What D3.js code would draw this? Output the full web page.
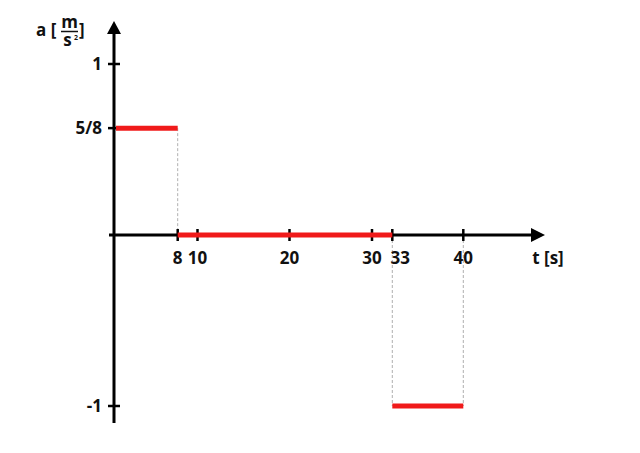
<!DOCTYPE html>
<html>
<head>
<meta charset="utf-8">
<style>
  body { margin: 0; background: #fff; }
  svg text { font-family: "Open Sans", sans-serif; font-weight: 700; font-size: 17px; fill: #111; }
</style>
<script src="https://cdn.jsdelivr.net/npm/d3@7"></script>
</head>
<body>
<script>
// piecewise-constant acceleration
var segStart = [0, 8, 33];
var segEnd   = [8, 33, 40];
var segAcc   = [5/8, 0, -1];

var xTicks = [8, 10, 20, 30, 33, 40];
var xTickLabels = ["8", "10", "20", "30", "33", "40"];
var yTicks = [1, 5/8, -1];
var yTickLabels = ["1", "5/8", "-1"];

// dashed guides: [t, a from, a to]
var guideT = [8, 33, 40];
var guideFrom = [5/8, 0, 0];
var guideTo = [0, -1, -1];

var width = 640, height = 453;

// the drawing is hand-spaced, so the time axis is piecewise
var x = d3.scaleLinear()
  .domain([0, 8, 10, 20, 30, 33, 40])
  .range([114, 177.7, 197.5, 289.5, 372, 392.3, 463.3]);
var y = d3.scaleLinear().domain([-1, 1]).range([406, 64]);

var svg = d3.select("body").append("svg")
  .attr("width", width)
  .attr("height", height);

// guides
svg.append("g").selectAll("line")
  .data(guideT)
  .enter().append("line")
  .attr("x1", function(d) { return x(d); })
  .attr("x2", function(d) { return x(d); })
  .attr("y1", function(d, i) { return y(guideFrom[i]); })
  .attr("y2", function(d, i) { return y(guideTo[i]); })
  .style("stroke", "#b0b0b0")
  .style("stroke-width", 1)
  .style("stroke-dasharray", "3,2");

// axes
var axes = svg.append("g").style("stroke", "#000").style("stroke-width", 3);
axes.append("line").attr("x1", 109).attr("x2", 537).attr("y1", y(0)).attr("y2", y(0));
axes.append("line").attr("x1", x(0)).attr("x2", x(0)).attr("y1", 30).attr("y2", 423);

svg.append("path")
  .attr("d", "M545," + y(0) + " L531," + (y(0) - 7) + " L531," + (y(0) + 7) + " Z")
  .style("fill", "#000");
svg.append("path")
  .attr("d", "M" + x(0) + ",21 L" + (x(0) - 7) + ",34 L" + (x(0) + 7) + ",34 Z")
  .style("fill", "#000");

// ticks
svg.append("g").selectAll("line")
  .data(xTicks)
  .enter().append("line")
  .attr("x1", function(d) { return x(d); })
  .attr("x2", function(d) { return x(d); })
  .attr("y1", y(0) - 6)
  .attr("y2", y(0) + 6)
  .style("stroke", "#000")
  .style("stroke-width", 2.5);

svg.append("g").selectAll("line")
  .data(yTicks)
  .enter().append("line")
  .attr("x1", x(0) - 6)
  .attr("x2", x(0) + 6)
  .attr("y1", function(d) { return y(d); })
  .attr("y2", function(d) { return y(d); })
  .style("stroke", "#000")
  .style("stroke-width", 2.5);

// red segments
svg.append("g").selectAll("line")
  .data(segAcc)
  .enter().append("line")
  .attr("x1", function(d, i) { return x(segStart[i]) + (i === 0 ? 2 : 0); })
  .attr("x2", function(d, i) { return x(segEnd[i]); })
  .attr("y1", function(d) { return y(d); })
  .attr("y2", function(d) { return y(d); })
  .style("stroke", "#f01a1a")
  .style("stroke-width", 5);

// tick labels
svg.append("g").selectAll("text")
  .data(xTicks)
  .enter().append("text")
  .attr("x", function(d, i) { return x(d) + (d === 33 ? 8 : 0); })
  .attr("y", 264)
  .attr("text-anchor", "middle")
  .text(function(d, i) { return xTickLabels[i]; });

svg.append("g").selectAll("text")
  .data(yTicks)
  .enter().append("text")
  .attr("x", 102)
  .attr("y", function(d) { return y(d) + 6; })
  .attr("text-anchor", "end")
  .text(function(d, i) { return yTickLabels[i]; });

// axis titles
svg.append("text").attr("x", 548).attr("y", 264).attr("text-anchor", "middle").text("t [s]");

var ylab = svg.append("g");
ylab.append("text").attr("x", 36).attr("y", 36).text("a [");
ylab.append("text").attr("x", 69.5).attr("y", 28).attr("text-anchor", "middle").text("m");
ylab.append("line").attr("x1", 61).attr("x2", 78).attr("y1", 31.5).attr("y2", 31.5)
  .style("stroke", "#111").style("stroke-width", 1.5);
ylab.append("text").attr("x", 67.5).attr("y", 46).attr("text-anchor", "middle").text("s");
ylab.append("text").attr("x", 74).attr("y", 40).style("font-size", "7px").text("2");
ylab.append("text").attr("x", 79).attr("y", 36).text("]");
</script>
</body>
</html>
